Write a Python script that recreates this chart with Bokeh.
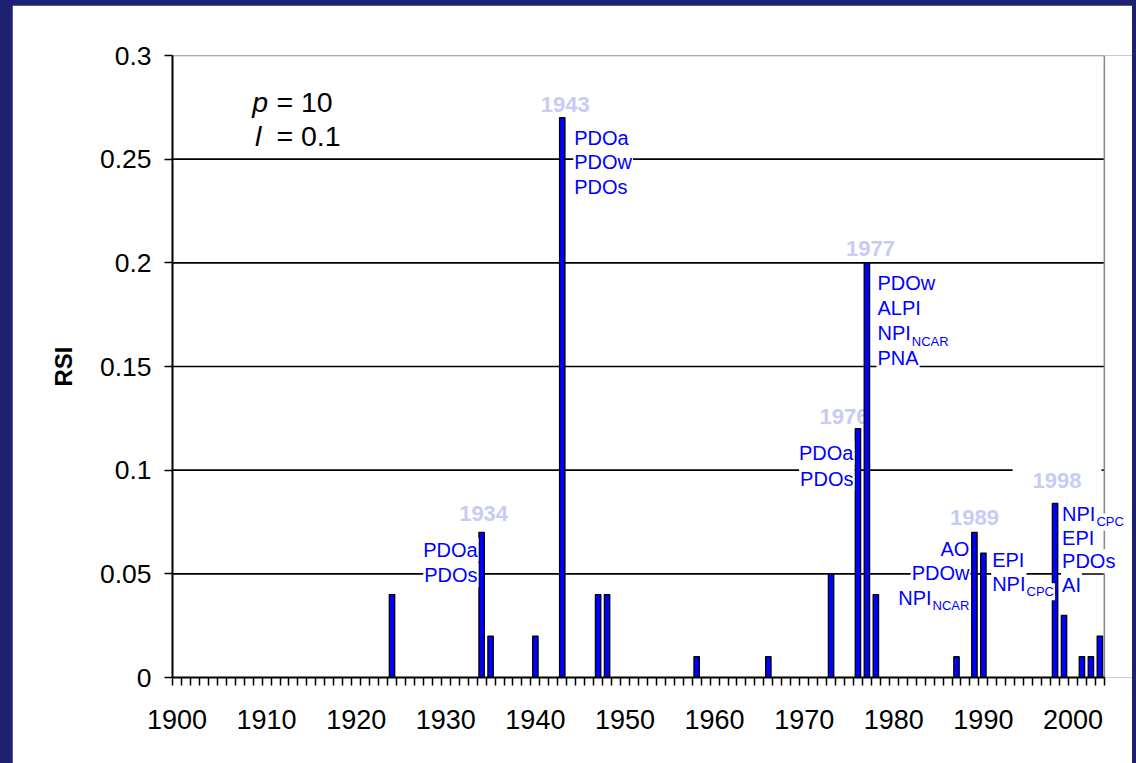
from bokeh.plotting import figure
from bokeh.models import Range1d, FixedTicker
from bokeh.layouts import column
from bokeh.embed import file_html
from bokeh.resources import INLINE
from bokeh.core.properties import value

# ---- data -------------------------------------------------------------
years = [1924, 1934, 1935, 1940, 1943, 1947, 1948, 1958, 1966, 1973, 1976,
         1977, 1978, 1987, 1989, 1990, 1998, 1999, 2001, 2002, 2003]
rsi = [0.04, 0.07, 0.02, 0.02, 0.27, 0.04, 0.04, 0.01, 0.01, 0.05, 0.12,
       0.20, 0.04, 0.01, 0.07, 0.06, 0.084, 0.03, 0.01, 0.01, 0.02]

decade_ticks = list(range(1900, 2001, 10))
y_ticks = [0, 0.05, 0.1, 0.15, 0.2, 0.25, 0.3]
y_tick_labels = ["0", "0.05", "0.1", "0.15", "0.2", "0.25", "0.3"]

tag_years = [1934, 1943, 1976, 1977, 1989, 1998]

shift_years = [1934, 1943, 1976, 1977, 1989, 1990, 1998]
shift_indices = [
    ["PDOa", "PDOs"],
    ["PDOa", "PDOw", "PDOs"],
    ["PDOa", "PDOs"],
    ["PDOw", "ALPI", "NPI_NCAR", "PNA"],
    ["AO", "PDOw", "NPI_NCAR"],
    ["EPI", "NPI_CPC"],
    ["NPI_CPC", "EPI", "PDOs", "AI"],
]

param_names = ["p", "l"]
param_values = ["= 10", "= 0.1"]

# ---- styling / layout ------------------------------------------------------
NAVY = "#1d2170"
BLUE = "#0000ff"
TAG = "#c8cbf5"
FONT = "Liberation Sans"
FRAME_GRAY = "#8c8c8c"

PX_PER_YEAR = 8.96
X0, X1 = 1899.5, 2003.5          # category edges of the year axis
FRAME_W, FRAME_H = 960, 622

# pixel offsets of each label block relative to its bar top:
# side, dx, dy of first line centre, line step
placement = {
    1934: ("left", -3, 17.4, 25.6),
    1943: ("right", 11, 20, 24.7),
    1976: ("left", -3.5, 24.5, 25.5),
    1977: ("right", 9.6, 20.3, 25.1),
    1989: ("left", -4, 16.4, 24.5),
    1990: ("right", 7.8, 6.7, 24),
    1998: ("right", 6, 10.6, 23.6),
}
tag_offset = {1934: (2, -18.6), 1943: (3, -13), 1976: (-14, -12),
              1977: (3.6, -14), 1989: (0, -15), 1998: (2, -22.7)}

MAIN_SIZE, SUB_SIZE, SUB_DROP = 20, 13, 8

# Arial / Liberation Sans advance widths (em)
W = {"P": .667, "D": .722, "O": .778, "a": .556, "w": .722, "s": .5,
     "A": .667, "L": .556, "I": .278, "N": .722, "C": .722, "R": .722,
     "E": .667}


def text_width(s, size):
    return sum(W.get(c, 0.6) for c in s) * size


value_of = dict(zip(years, rsi))

# ---- figure ------------------------------------------------------------
p = figure(width=1120, height=758,
           x_range=Range1d(X0, X0 + FRAME_W / PX_PER_YEAR),
           y_range=Range1d(0, 0.3),
           output_backend="svg", toolbar_location=None,
           min_border_left=160, min_border_right=0,
           min_border_top=50, min_border_bottom=86,
           border_fill_color="white", background_fill_color="white",
           outline_line_color=None, margin=(5, 4, 0, 12))
p.xgrid.visible = False
p.ygrid.visible = False

# horizontal grid lines spanning the year categories
grid_vals = y_ticks[1:-1]
p.segment(x0=[X0] * len(grid_vals), y0=grid_vals,
          x1=[X1] * len(grid_vals), y1=grid_vals,
          line_color="black", line_width=1.6)
# grey plot-area border (top and right)
p.segment(x0=[X0, X1], y0=[y_ticks[-1], 0], x1=[X1, X1],
          y1=[y_ticks[-1], y_ticks[-1]],
          line_color=FRAME_GRAY, line_width=1.6)

# year tags above the shift bars
plain_tags = [y for y in tag_years if y != 1998]
p.text(x=plain_tags, y=[value_of[y] for y in plain_tags],
       text=[str(y) for y in plain_tags],
       x_offset=[tag_offset[y][0] for y in plain_tags],
       y_offset=[tag_offset[y][1] for y in plain_tags],
       text_font=value(FONT), text_font_style="bold", text_font_size="22px",
       text_color=TAG, text_align="center", text_baseline="middle")
boxed_tags = [y for y in tag_years if y == 1998]
p.text(x=boxed_tags, y=[value_of[y] for y in boxed_tags],
       text=[str(y) for y in boxed_tags],
       x_offset=[tag_offset[y][0] for y in boxed_tags],
       y_offset=[tag_offset[y][1] for y in boxed_tags],
       text_font=value(FONT), text_font_style="bold", text_font_size="22px",
       text_color=TAG, text_align="center", text_baseline="middle",
       background_fill_color="white", padding=20)

# bars
p.vbar(x=years, top=rsi, bottom=0, width=0.6,
       fill_color=BLUE, line_color="black", line_width=1.3)

# index labels next to the shift bars
lx, ly, lt, lxo, lyo, lsize, lalign = [], [], [], [], [], [], []


def add(year, txt, xo, yo, size, align):
    lx.append(year)
    ly.append(value_of[year])
    lt.append(txt)
    lxo.append(xo)
    lyo.append(yo)
    lsize.append(f"{size}px")
    lalign.append(align)


for year, names in zip(shift_years, shift_indices):
    side, dx, dy0, step = placement[year]
    for k, name in enumerate(names):
        yo = dy0 + k * step
        main, _, sub = name.partition("_")
        if side == "right":
            add(year, main, dx, yo, MAIN_SIZE, "left")
            if sub:
                add(year, sub, dx + text_width(main, MAIN_SIZE) + 1,
                    yo + SUB_DROP, SUB_SIZE, "left")
        else:
            if sub:
                add(year, sub, dx, yo + SUB_DROP, SUB_SIZE, "right")
                add(year, main, dx - text_width(sub, SUB_SIZE) - 1,
                    yo, MAIN_SIZE, "right")
            else:
                add(year, main, dx, yo, MAIN_SIZE, "right")

p.text(x=lx, y=ly, text=lt, x_offset=lxo, y_offset=lyo,
       text_font_size=lsize, text_align=lalign, text_baseline="middle",
       text_font=value(FONT), text_color=BLUE,
       background_fill_color="white", padding=1)

# parameter annotation in the upper left corner
param_y = [0.2776, 0.2614]
p.text(x=[1908.4, 1908.7], y=param_y, text=param_names,
       text_font=value(FONT), text_font_style="italic", text_font_size="28.5px",
       text_color="black", text_align="left", text_baseline="middle")
p.text(x=[1911.1, 1911.1], y=param_y, text=param_values,
       text_font=value(FONT), text_font_size="28.5px",
       text_color="black", text_align="left", text_baseline="middle")

# ---- axes --------------------------------------------------------------
xa = p.xaxis[0]
xa.ticker = FixedTicker(ticks=decade_ticks,
                        minor_ticks=[X0 + i for i in range(int(X1 - X0) + 1)])
xa.bounds = (X0, X1)
xa.axis_line_color = "black"
xa.axis_line_width = 2
xa.major_tick_out = 0
xa.major_tick_in = 0
xa.minor_tick_out = 8
xa.minor_tick_in = 0
xa.minor_tick_line_color = "black"
xa.minor_tick_line_width = 1.5
xa.major_label_standoff = 24
xa.major_label_text_font = FONT
xa.major_label_text_font_size = "27px"
xa.major_label_text_color = "black"

ya = p.yaxis[0]
ya.ticker = FixedTicker(ticks=y_ticks)
ya.major_label_overrides = dict(zip(y_ticks, y_tick_labels))
ya.axis_line_color = "black"
ya.axis_line_width = 2
ya.major_tick_out = 8
ya.major_tick_in = 0
ya.minor_tick_out = 0
ya.minor_tick_in = 0
ya.major_tick_line_color = "black"
ya.major_tick_line_width = 1.5
ya.major_label_standoff = 13
ya.major_label_text_font = FONT
ya.major_label_text_font_size = "26.5px"
ya.major_label_text_color = "black"
ya.axis_label = "RSI"
ya.axis_label_text_font = FONT
ya.axis_label_text_font_style = "bold"
ya.axis_label_text_font_size = "24px"
ya.axis_label_text_color = "black"
ya.axis_label_standoff = 20

layout = column(p, styles={"background-color": NAVY})

open("out.html", "w").write(file_html(layout, INLINE))
